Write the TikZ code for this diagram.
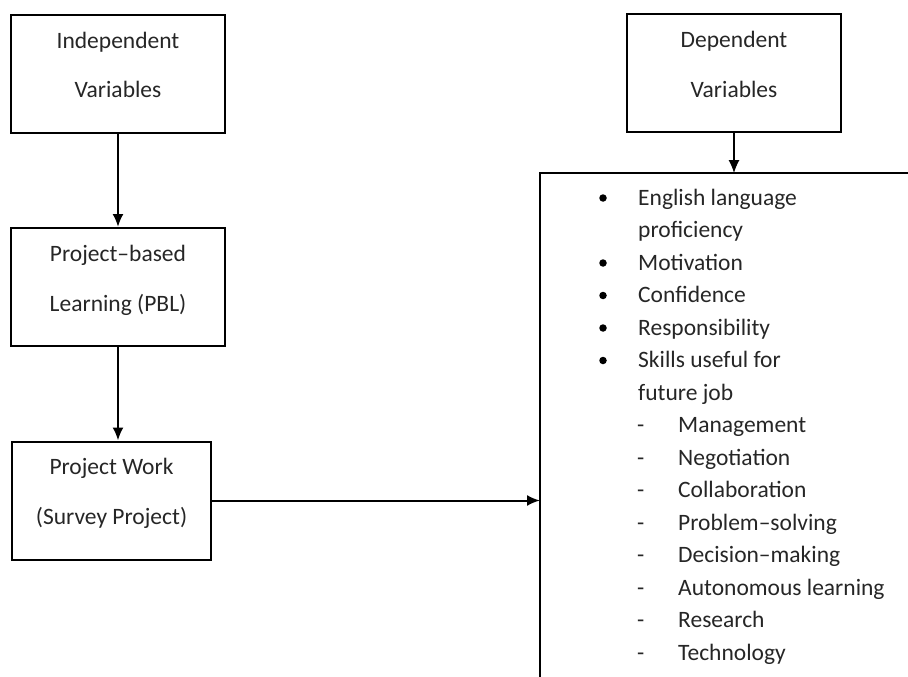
\documentclass[tikz,border=0pt]{standalone}
\usepackage{fontspec}
\setmainfont{Carlito}
\usetikzlibrary{arrows.meta}
\newcommand\boxfont{\fontsize{23.5}{50}\selectfont}
\newcommand\listfont{\fontsize{23.5}{32.5}\selectfont}
\tikzset{
  box/.style={draw, line width=2pt, minimum width=214pt, minimum height=118pt,
    align=center, text height=66pt, text depth=18pt, inner sep=0pt,
    font=\boxfont, text=black!85},
  item/.style={anchor=base west, inner sep=0pt, font=\listfont, text=black!85},
  dot/.style={circle, fill=black, inner sep=0pt, minimum size=7.5pt},
  link/.style={line width=2pt, -{Latex[length=13pt,width=11pt]}},
}
\begin{document}
\begin{tikzpicture}[x=1pt, y=-1pt]
\useasboundingbox (0,0) rectangle (908,677);
% left column
\node[box] (indep) at (118,74) {Independent\\Variables};
\node[box] (pbl) at (118,287) {Project–based\\Learning (PBL)};
\node[box, minimum width=199pt] (proj) at (111.5,500.5) {Project Work\\(Survey Project)};
\draw[link] (indep.south) -- (pbl.north);
\draw[link] (pbl.south) -- (pbl.south |- proj.north);
% right column
\node[box] (dep) at (734,73) {Dependent\\Variables};
\coordinate (lst) at (540,173);
\draw[line width=2pt] (540,677) -- (lst) -- (908,173);
\draw[link, line width=1.1pt] (dep.south) -- (dep.south |- lst);
\draw[link] (proj.east) -- (proj.east -| lst);
% list of outcomes
\foreach \t [count=\i from 0] in {English language, proficiency, Motivation, Confidence, Responsibility, Skills useful for, future job}
  \node[item] (itm\i) at (638,205+32.5*\i) {\t};
\foreach \i in {0,2,3,4,5}
  \node[dot] (bul\i) at (603,198+32.5*\i) {};
\foreach \t [count=\i from 7] in {Management, Negotiation, Collaboration, Problem–solving, Decision–making, Autonomous learning, Research, Technology}{
  \node[item] (sub\i) at (678,205+32.5*\i) {\t};
  \node[item] (dsh\i) at (637,205+32.5*\i) {-};
}
\end{tikzpicture}
\end{document}
